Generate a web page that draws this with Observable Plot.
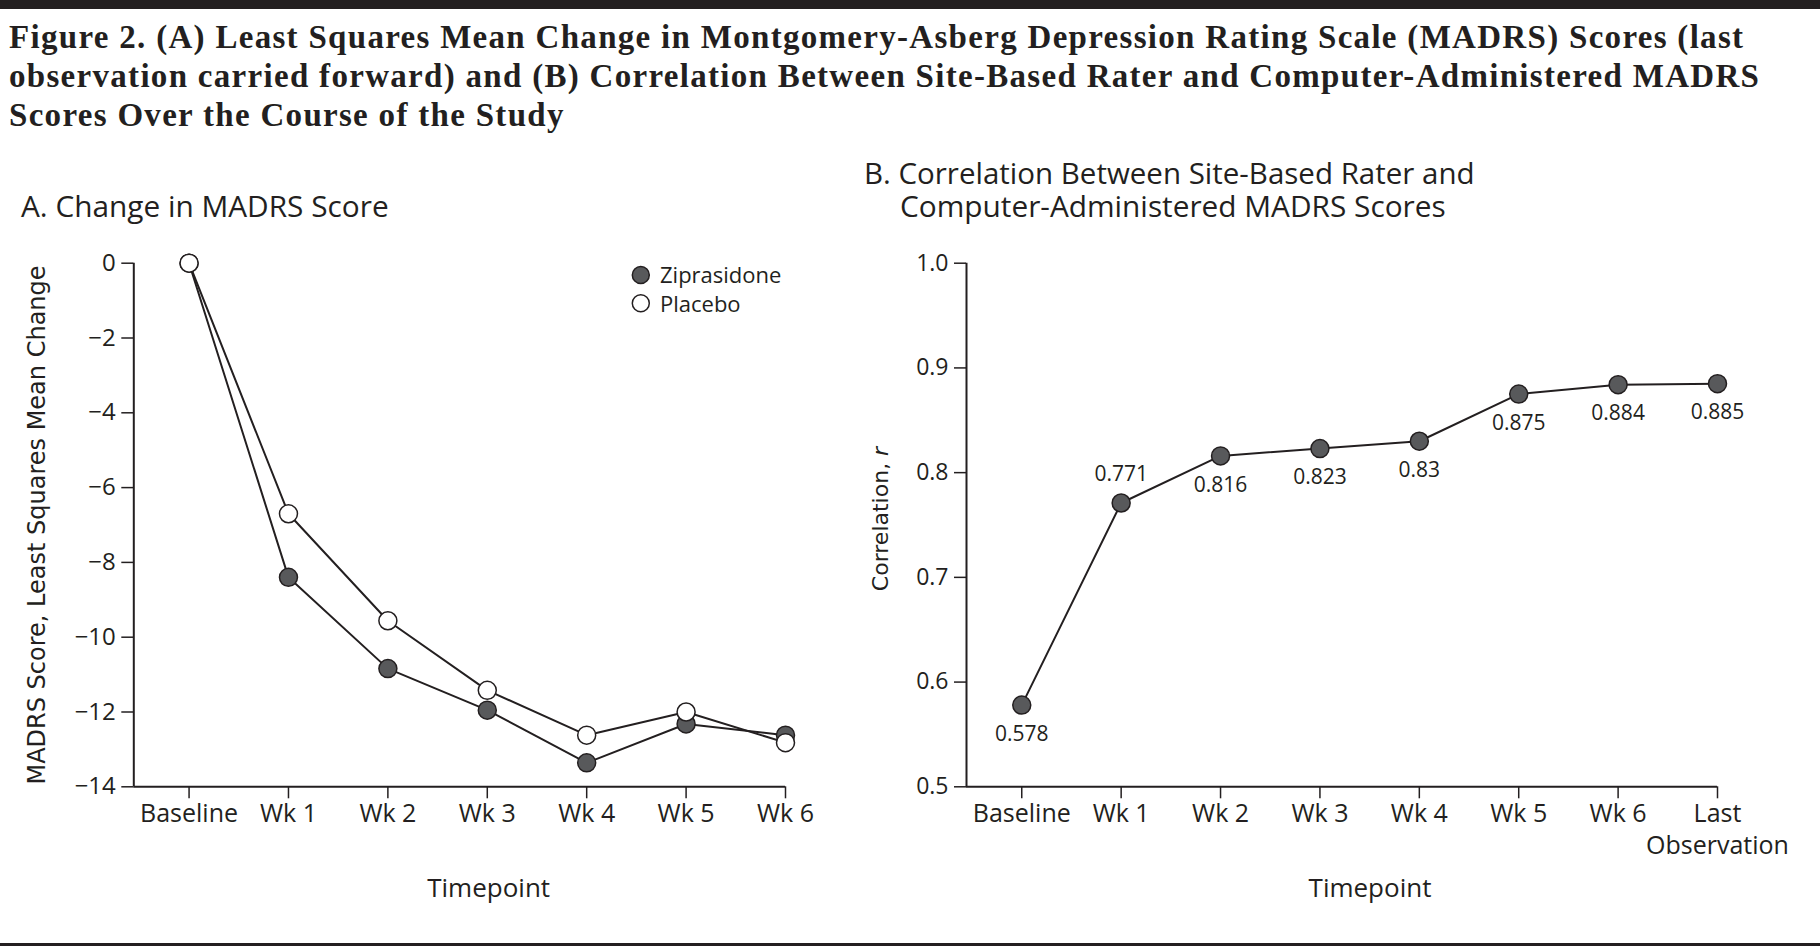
<!DOCTYPE html>
<html>
<head>
<meta charset="utf-8">
<script src="https://cdn.jsdelivr.net/npm/d3@7"></script>
<script src="https://cdn.jsdelivr.net/npm/@observablehq/plot@0.6"></script>
<style>
  html, body { margin: 0; padding: 0; background: #fff; }
  #page { position: relative; width: 1820px; height: 946px; overflow: hidden; background: #fff; color: #231f20; }
  .abs { position: absolute; }
  #topbar { left: 0; top: 0; width: 1820px; height: 9px; background: #231f20; }
  #bottombar { left: 0; top: 943px; width: 1820px; height: 3px; background: #231f20; }
  #title { left: 9px; top: 18px; font-family: "Liberation Serif", serif; font-weight: bold; font-size: 33px; letter-spacing: 1.3px; line-height: 38.8px; white-space: nowrap; }
  .ptitle { font-family: "Open Sans", sans-serif; font-size: 29.8px; white-space: nowrap; }
  #titleA { left: 21px; top: 191px; line-height: 29.8px; }
  #titleB { left: 864px; top: 156px; line-height: 33px; font-size: 29.5px; }
  #titleB .l2 { display: block; margin-left: 36px; font-size: 29.8px; }
  #plotA { left: 0; top: 240px; }
  #plotB { left: 860px; top: 240px; }
  #legendA { left: 620px; top: 255px; }
</style>
</head>
<body>
<div id="page">
  <div id="topbar" class="abs"></div>
  <div id="title" class="abs"></div>
  <div id="titleA" class="abs ptitle"></div>
  <div id="titleB" class="abs ptitle"></div>
  <div id="plotA" class="abs"></div>
  <div id="plotB" class="abs"></div>
  <div id="legendA" class="abs"></div>
  <div id="bottombar" class="abs"></div>
</div>
<script>
// ---------- data ----------
const titleLines = [
  "Figure 2. (A) Least Squares Mean Change in Montgomery-Asberg Depression Rating Scale (MADRS) Scores (last",
  "observation carried forward) and (B) Correlation Between Site-Based Rater and Computer-Administered MADRS",
  "Scores Over the Course of the Study"
];
const panelTitleA = "A. Change in MADRS Score";
const panelTitleB = ["B. Correlation Between Site-Based Rater and", "Computer-Administered MADRS Scores"];

const categoriesA = ["Baseline", "Wk 1", "Wk 2", "Wk 3", "Wk 4", "Wk 5", "Wk 6"];
const seriesNames = ["Ziprasidone", "Placebo"];
const ziprasidone = [0, -8.40, -10.84, -11.95, -13.36, -12.32, -12.62];
const placebo     = [0, -6.70, -9.56, -11.42, -12.62, -12.00, -12.82];
const yTicksA = [0, -2, -4, -6, -8, -10, -12, -14];
const yLabelA = "MADRS Score, Least Squares Mean Change";

const categoriesB = ["Baseline", "Wk 1", "Wk 2", "Wk 3", "Wk 4", "Wk 5", "Wk 6", "Last\nObservation"];
const correlation = [0.578, 0.771, 0.816, 0.823, 0.83, 0.875, 0.884, 0.885];
const labelAboveB = ["Wk 1"];
const yTicksB = [0.5, 0.6, 0.7, 0.8, 0.9, 1.0];
const yLabelB = "Correlation, r";
const xLabel = "Timepoint";

// ---------- styles ----------
const ink = "#231f20";
const darkFill = "#58595b";
const seriesFill = {"Ziprasidone": darkFill, "Placebo": "#ffffff"};
const xPad = 0.556;
const dotR = 9;

// ---------- titles ----------
document.getElementById("title").innerHTML = titleLines.join("<br>");
document.getElementById("titleA").textContent = panelTitleA;
document.getElementById("titleB").innerHTML = `<span>${panelTitleB[0]}</span><span class="l2">${panelTitleB[1]}</span>`;

// ---------- panel A ----------
const dataA = [];
categoriesA.forEach((c, i) => {
  dataA.push({i, cat: c, series: seriesNames[0], v: ziprasidone[i]});
});
categoriesA.forEach((c, i) => {
  dataA.push({i, cat: c, series: seriesNames[1], v: placebo[i]});
});
const xDomainA = [-xPad, categoriesA.length - 1];
const yDomainA = [d3.min(yTicksA), d3.max(yTicksA)];

const plotA = Plot.plot({
  width: 820, height: 700,
  marginLeft: 133.3, marginRight: 35, marginTop: 22.7, marginBottom: 153.7,
  style: {fontFamily: "'Open Sans', sans-serif", color: ink, background: "transparent", overflow: "visible"},
  x: {type: "linear", domain: xDomainA},
  y: {type: "linear", domain: yDomainA},
  marks: [
    Plot.ruleX([xDomainA[0]], {y1: yDomainA[0], y2: yDomainA[1], stroke: ink, strokeWidth: 2}),
    Plot.ruleY([yDomainA[0]], {x1: xDomainA[0], x2: xDomainA[1], stroke: ink, strokeWidth: 2}),
    Plot.axisY({ticks: yTicksA, tickFormat: d3.format("d"), tickSize: 12, tickPadding: 6, fontSize: 24, strokeWidth: 1.5, label: null}),
    Plot.axisX({ticks: d3.range(categoriesA.length), tickFormat: i => categoriesA[i], tickSize: 12, tickPadding: 5, fontSize: 25, strokeWidth: 1.5, label: null}),
    Plot.line(dataA, {x: "i", y: "v", z: "series", stroke: ink, strokeWidth: 2}),
    Plot.dot(dataA, {x: "i", y: "v", r: dotR, fill: d => seriesFill[d.series], stroke: ink, strokeWidth: 1.5}),
    Plot.text([yLabelA], {frameAnchor: "left", textAnchor: "middle", rotate: -90, dx: -96.3, fontFamily: "'DejaVu Sans', sans-serif", fontSize: 24}),
    Plot.text([xLabel], {frameAnchor: "bottom", textAnchor: "middle", dx: 29, dy: 110, fontSize: 26})
  ]
});
document.getElementById("plotA").appendChild(plotA);

// legend A
const legend = d3.select("#legendA").append("svg").attr("width", 200).attr("height", 70);
seriesNames.forEach((s, k) => {
  const g = legend.append("g").attr("transform", `translate(0, ${k * 28.3})`);
  g.append("circle").attr("cx", 20.8).attr("cy", 20).attr("r", 8.5)
    .attr("fill", seriesFill[s]).attr("stroke", ink).attr("stroke-width", 1.5);
  g.append("text").attr("x", 40).attr("y", 28.3).attr("fill", ink)
    .attr("font-family", "'Open Sans', sans-serif").attr("font-size", 22).text(s);
});

// ---------- panel B ----------
const dataB = categoriesB.map((c, i) => ({i, cat: c, v: correlation[i]}));
const xDomainB = [-xPad, categoriesB.length - 1];
const yDomainB = [d3.min(yTicksB), d3.max(yTicksB)];

const plotB = Plot.plot({
  width: 960, height: 700,
  marginLeft: 106, marginRight: 103, marginTop: 22.7, marginBottom: 153.7,
  style: {fontFamily: "'Open Sans', sans-serif", color: ink, background: "transparent", overflow: "visible"},
  x: {type: "linear", domain: xDomainB},
  y: {type: "linear", domain: yDomainB},
  marks: [
    Plot.ruleX([xDomainB[0]], {y1: yDomainB[0], y2: yDomainB[1], stroke: ink, strokeWidth: 2}),
    Plot.ruleY([yDomainB[0]], {x1: xDomainB[0], x2: xDomainB[1], stroke: ink, strokeWidth: 2}),
    Plot.axisY({ticks: yTicksB, tickFormat: d3.format(".1f"), tickSize: 12, tickPadding: 6, fontSize: 23, strokeWidth: 1.5, label: null}),
    Plot.axisX({ticks: d3.range(categoriesB.length), tickFormat: i => categoriesB[i], tickSize: 12, tickPadding: 0, fontSize: 25, lineHeight: 1.3, strokeWidth: 1.5, label: null}),
    Plot.line(dataB, {x: "i", y: "v", stroke: ink, strokeWidth: 2}),
    Plot.dot(dataB, {x: "i", y: "v", r: dotR, fill: darkFill, stroke: ink, strokeWidth: 1.5}),
    Plot.text(dataB, {filter: d => labelAboveB.includes(d.cat), x: "i", y: "v", text: d => String(d.v), dy: -29, fontSize: 21}),
    Plot.text(dataB, {filter: d => !labelAboveB.includes(d.cat), x: "i", y: "v", text: d => String(d.v), dy: 29, fontSize: 21}),
    Plot.text([yLabelB], {frameAnchor: "left", textAnchor: "middle", rotate: -90, dx: -86, dy: -6, fontFamily: "'DejaVu Sans', sans-serif", fontSize: 22}),
    Plot.text([xLabel], {frameAnchor: "bottom", textAnchor: "middle", dx: 28, dy: 110, fontSize: 26})
  ]
});
document.getElementById("plotB").appendChild(plotB);

// italic "r" in the y label of panel B
d3.select(plotB).selectAll("text").each(function() {
  const t = d3.select(this);
  if (t.text() === yLabelB) {
    const parts = yLabelB.split(", ");
    t.text(null);
    t.append("tspan").text(parts[0] + ", ");
    t.append("tspan").attr("font-style", "italic").text(parts[1]);
  }
});
</script>
</body>
</html>
